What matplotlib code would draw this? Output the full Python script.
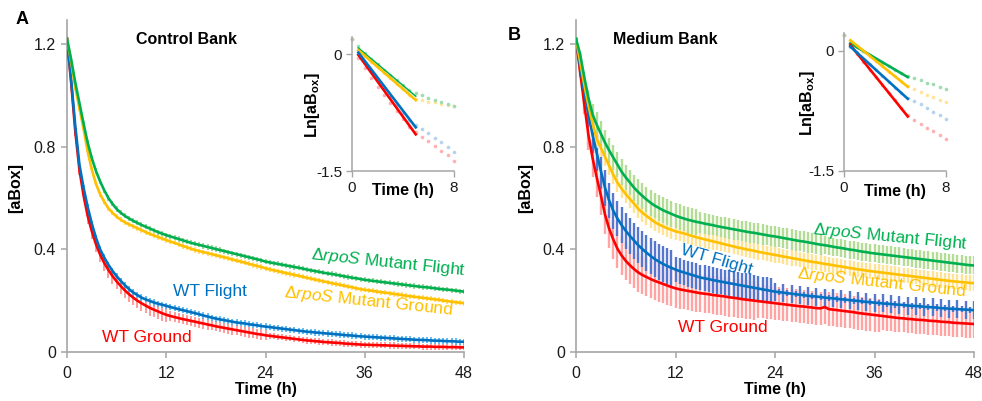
import numpy as np
import matplotlib
matplotlib.use("Agg")
import matplotlib.pyplot as plt

plt.rcParams['font.family'] = ['Liberation Sans', 'DejaVu Sans']
plt.rcParams['mathtext.fontset'] = 'custom'
plt.rcParams['mathtext.rm'] = 'Liberation Sans'
plt.rcParams['mathtext.it'] = 'Liberation Sans:italic'
plt.rcParams['mathtext.bf'] = 'Liberation Sans:bold'

# ---------------- data ----------------
TIME_H = np.arange(0, 48.5, 0.5)

A_MUT_FLIGHT = [1.22, 1.14, 1.05, 0.97, 0.89, 0.815, 0.755, 0.705, 0.665, 0.63, 0.60, 0.577, 0.557, 0.542, 0.53, 0.52,
                0.511, 0.503, 0.495, 0.488, 0.481, 0.474, 0.467, 0.461, 0.455, 0.45, 0.445, 0.44, 0.435, 0.43, 0.425, 0.421,
                0.417, 0.413, 0.409, 0.405, 0.401, 0.397, 0.393, 0.389, 0.385, 0.381, 0.377, 0.373, 0.369, 0.365, 0.361, 0.357,
                0.352, 0.349, 0.346, 0.343, 0.340, 0.337, 0.334, 0.331, 0.328, 0.325, 0.321, 0.318, 0.315, 0.312, 0.309, 0.306,
                0.304, 0.301, 0.298, 0.295, 0.292, 0.289, 0.287, 0.284, 0.281, 0.279, 0.277, 0.275, 0.273, 0.271, 0.269, 0.267,
                0.265, 0.263, 0.261, 0.259, 0.257, 0.255, 0.253, 0.252, 0.250, 0.248, 0.246, 0.244, 0.243, 0.241, 0.239, 0.237, 0.235]
A_MUT_GROUND = [1.22, 1.13, 1.03, 0.95, 0.87, 0.78, 0.71, 0.655, 0.615, 0.585, 0.56, 0.542, 0.527, 0.515, 0.505, 0.497,
                0.49, 0.482, 0.475, 0.467, 0.46, 0.454, 0.448, 0.442, 0.436, 0.43, 0.425, 0.419, 0.413, 0.408, 0.402, 0.397,
                0.393, 0.389, 0.385, 0.381, 0.377, 0.373, 0.369, 0.365, 0.36, 0.356, 0.352, 0.348, 0.343, 0.339, 0.335, 0.331,
                0.326, 0.322, 0.318, 0.315, 0.311, 0.307, 0.304, 0.300, 0.297, 0.293, 0.289, 0.286, 0.282, 0.279, 0.275, 0.272,
                0.268, 0.265, 0.262, 0.258, 0.255, 0.252, 0.248, 0.245, 0.242, 0.24, 0.238, 0.235, 0.233, 0.231, 0.229, 0.226,
                0.224, 0.222, 0.219, 0.217, 0.215, 0.213, 0.211, 0.209, 0.207, 0.205, 0.203, 0.200, 0.198, 0.196, 0.194, 0.192, 0.19]
A_WT_FLIGHT = [1.22, 1.06, 0.88, 0.73, 0.64, 0.565, 0.50, 0.445, 0.40, 0.368, 0.34, 0.316, 0.295, 0.277, 0.26, 0.245,
               0.232, 0.222, 0.212, 0.205, 0.199, 0.193, 0.188, 0.184, 0.18, 0.175, 0.171, 0.167, 0.163, 0.159, 0.155, 0.151,
               0.147, 0.142, 0.138, 0.134, 0.13, 0.127, 0.124, 0.121, 0.118, 0.115, 0.113, 0.111, 0.108, 0.106, 0.104, 0.101,
               0.099, 0.097, 0.095, 0.093, 0.091, 0.089, 0.087, 0.085, 0.083, 0.081, 0.079, 0.078, 0.076, 0.075, 0.073, 0.072,
               0.071, 0.069, 0.068, 0.066, 0.065, 0.064, 0.062, 0.061, 0.06, 0.059, 0.058, 0.057, 0.056, 0.055, 0.054, 0.053,
               0.052, 0.051, 0.05, 0.049, 0.048, 0.047, 0.047, 0.046, 0.045, 0.044, 0.044, 0.043, 0.042, 0.042, 0.041, 0.04, 0.04]
A_WT_GROUND = [1.22, 1.05, 0.86, 0.71, 0.61, 0.53, 0.47, 0.42, 0.38, 0.347, 0.32, 0.296, 0.275, 0.257, 0.24, 0.225,
               0.212, 0.2, 0.19, 0.181, 0.172, 0.165, 0.158, 0.151, 0.145, 0.14, 0.136, 0.132, 0.128, 0.125, 0.121, 0.118,
               0.114, 0.111, 0.107, 0.104, 0.1, 0.097, 0.094, 0.091, 0.088, 0.085, 0.082, 0.079, 0.076, 0.073, 0.07, 0.068,
               0.065, 0.063, 0.061, 0.059, 0.057, 0.055, 0.053, 0.051, 0.049, 0.047, 0.045, 0.044, 0.042, 0.041, 0.039, 0.038,
               0.037, 0.036, 0.035, 0.033, 0.032, 0.031, 0.03, 0.029, 0.028, 0.028, 0.027, 0.027, 0.026, 0.026, 0.025, 0.025,
               0.024, 0.024, 0.023, 0.023, 0.022, 0.022, 0.021, 0.021, 0.021, 0.02, 0.02, 0.02, 0.019, 0.019, 0.019, 0.018, 0.018]

B_MUT_FLIGHT = [1.22, 1.16, 1.07, 0.99, 0.925, 0.885, 0.85, 0.815, 0.785, 0.757, 0.73, 0.702, 0.68, 0.66, 0.64, 0.623,
                0.608, 0.594, 0.581, 0.57, 0.561, 0.552, 0.545, 0.538, 0.531, 0.525, 0.52, 0.515, 0.511, 0.507, 0.504, 0.5,
                0.497, 0.494, 0.49, 0.487, 0.484, 0.481, 0.478, 0.475, 0.472, 0.469, 0.466, 0.464, 0.461, 0.458, 0.455, 0.452,
                0.45, 0.447, 0.444, 0.441, 0.438, 0.435, 0.432, 0.43, 0.427, 0.424, 0.421, 0.418, 0.416, 0.413, 0.41, 0.407,
                0.405, 0.402, 0.399, 0.397, 0.394, 0.391, 0.389, 0.386, 0.384, 0.382, 0.38, 0.378, 0.376, 0.374, 0.372, 0.37,
                0.368, 0.366, 0.364, 0.362, 0.36, 0.358, 0.356, 0.354, 0.352, 0.35, 0.348, 0.346, 0.344, 0.342, 0.34, 0.338, 0.337]
B_MUT_GROUND = [1.22, 1.13, 1.04, 0.96, 0.89, 0.83, 0.795, 0.76, 0.725, 0.69, 0.66, 0.636, 0.615, 0.596, 0.578, 0.558,
                0.543, 0.53, 0.518, 0.506, 0.497, 0.489, 0.482, 0.476, 0.47, 0.466, 0.462, 0.457, 0.452, 0.447, 0.443, 0.439,
                0.435, 0.431, 0.427, 0.423, 0.419, 0.415, 0.411, 0.407, 0.404, 0.4, 0.397, 0.394, 0.39, 0.387, 0.384, 0.381,
                0.378, 0.375, 0.372, 0.369, 0.366, 0.363, 0.36, 0.357, 0.354, 0.351, 0.349, 0.346, 0.343, 0.341, 0.338, 0.335,
                0.333, 0.33, 0.327, 0.325, 0.322, 0.32, 0.317, 0.315, 0.313, 0.311, 0.309, 0.307, 0.305, 0.303, 0.301, 0.299,
                0.297, 0.295, 0.293, 0.291, 0.289, 0.287, 0.285, 0.283, 0.281, 0.279, 0.277, 0.275, 0.274, 0.272, 0.271, 0.269, 0.268]
B_WT_FLIGHT = [1.22, 1.11, 1.01, 0.925, 0.845, 0.775, 0.705, 0.64, 0.59, 0.55, 0.52, 0.494, 0.472, 0.452, 0.434, 0.416,
               0.401, 0.387, 0.374, 0.362, 0.352, 0.343, 0.335, 0.328, 0.321, 0.315, 0.31, 0.305, 0.3, 0.295, 0.29, 0.287,
               0.284, 0.28, 0.277, 0.274, 0.271, 0.268, 0.265, 0.262, 0.259, 0.256, 0.253, 0.25, 0.247, 0.244, 0.241, 0.238,
               0.235, 0.233, 0.231, 0.229, 0.227, 0.225, 0.223, 0.221, 0.219, 0.217, 0.216, 0.214, 0.212, 0.21, 0.209, 0.207,
               0.205, 0.204, 0.202, 0.2, 0.199, 0.197, 0.195, 0.194, 0.192, 0.191, 0.189, 0.188, 0.187, 0.185, 0.184, 0.183,
               0.181, 0.18, 0.179, 0.178, 0.176, 0.175, 0.174, 0.173, 0.171, 0.17, 0.169, 0.168, 0.167, 0.166, 0.165, 0.164, 0.163]
B_WT_GROUND = [1.22, 1.09, 0.965, 0.845, 0.755, 0.68, 0.61, 0.535, 0.48, 0.438, 0.402, 0.376, 0.355, 0.338, 0.323, 0.31,
               0.3, 0.292, 0.284, 0.277, 0.271, 0.265, 0.259, 0.253, 0.248, 0.244, 0.241, 0.238, 0.235, 0.232, 0.229, 0.227,
               0.225, 0.222, 0.22, 0.218, 0.216, 0.213, 0.211, 0.209, 0.206, 0.204, 0.202, 0.2, 0.198, 0.196, 0.194, 0.192,
               0.19, 0.188, 0.186, 0.184, 0.182, 0.18, 0.178, 0.177, 0.175, 0.173, 0.171, 0.17, 0.175, 0.167, 0.165, 0.163,
               0.161, 0.159, 0.157, 0.155, 0.152, 0.15, 0.148, 0.146, 0.144, 0.142, 0.14, 0.138, 0.136, 0.134, 0.132, 0.131,
               0.129, 0.128, 0.126, 0.125, 0.124, 0.122, 0.121, 0.12, 0.118, 0.117, 0.116, 0.114, 0.113, 0.112, 0.111, 0.11, 0.109]

# error bar half-widths
ERR_A_MUT_FLIGHT = [0.0] + [0.01] * 96
ERR_A_MUT_GROUND = [0.0] + [0.01] * 96
ERR_A_WT_FLIGHT = [0.0] + [0.012] * 96
ERR_A_WT_GROUND = [0.0] + [0.02] * 4 + [0.03] * 20 + [0.02] * 24 + [0.012] * 48
ERR_B_MUT_FLIGHT = [0.0, 0.01, 0.02, 0.03, 0.04] + [0.05] * 25 + [0.04] * 30 + [0.035] * 37
ERR_B_MUT_GROUND = [0.0, 0.01, 0.02, 0.03] + [0.035] * 30 + [0.03] * 63
ERR_B_WT_FLIGHT = [0.0, 0.01, 0.03, 0.05] + [0.07] * 20 + [0.05] * 24 + [0.035, 0.012] * 24 + [0.035]
ERR_B_WT_GROUND = [0.0, 0.02, 0.04, 0.06] + [0.075] * 40 + [0.065] * 30 + [0.055] * 23

# inset: ln[aBox] points and linear fits
INSET_T = np.arange(0, 8.5, 0.5)
FIT_T = [0.5, 5.0]
INSET_A = {
    'mut_flight': [0.2, 0.1, 0.02, -0.06, -0.13, -0.2, -0.27, -0.33, -0.4, -0.46, -0.5, -0.53, -0.56, -0.59, -0.61, -0.64, -0.67],
    'mut_ground': [0.2, 0.06, -0.02, -0.1, -0.17, -0.24, -0.31, -0.38, -0.45, -0.52, -0.57, -0.59, -0.61, -0.62, -0.64, -0.65, -0.67],
    'wt_flight': [0.2, 0.0, -0.12, -0.23, -0.34, -0.45, -0.55, -0.65, -0.75, -0.84, -0.91, -0.96, -1.01, -1.07, -1.13, -1.19, -1.25],
    'wt_ground': [0.2, -0.05, -0.18, -0.3, -0.42, -0.53, -0.63, -0.73, -0.83, -0.93, -1.0, -1.06, -1.12, -1.18, -1.24, -1.3, -1.37],
}
FIT_A = {'mut_flight': [0.08, -0.54], 'mut_ground': [0.05, -0.59], 'wt_flight': [0.02, -0.94], 'wt_ground': [-0.01, -1.03]}
INSET_B = {
    'mut_flight': [0.2, 0.1, 0.04, -0.01, -0.06, -0.1, -0.15, -0.19, -0.24, -0.28, -0.32, -0.34, -0.37, -0.4, -0.42, -0.45, -0.48],
    'mut_ground': [0.2, 0.12, 0.06, 0.0, -0.07, -0.13, -0.19, -0.26, -0.32, -0.38, -0.44, -0.48, -0.52, -0.55, -0.58, -0.61, -0.64],
    'wt_flight': [0.2, 0.05, -0.02, -0.1, -0.17, -0.24, -0.31, -0.39, -0.46, -0.53, -0.59, -0.63, -0.67, -0.72, -0.76, -0.8, -0.85],
    'wt_ground': [0.2, 0.06, -0.04, -0.14, -0.24, -0.33, -0.43, -0.53, -0.62, -0.72, -0.8, -0.86, -0.91, -0.96, -1.0, -1.05, -1.1],
}
FIT_B = {'mut_flight': [0.09, -0.33], 'mut_ground': [0.13, -0.45], 'wt_flight': [0.05, -0.6], 'wt_ground': [0.07, -0.82]}

X_TICKS = [0, 12, 24, 36, 48]
Y_TICKS = [0, 0.4, 0.8, 1.2]
Y_TICKLABELS = ['0', '0.4', '0.8', '1.2']

# ---------------- style ----------------
LINE = {'mut_flight': '#00B050', 'mut_ground': '#FFC000', 'wt_flight': '#0070C0', 'wt_ground': '#FF0000'}
ERRC_A = {'mut_flight': '#8FD18F', 'mut_ground': '#FFD966', 'wt_flight': '#4DB3F0', 'wt_ground': '#FF8A8A'}
ERRC_B = {'mut_flight': '#B3DD95', 'mut_ground': '#FFE395', 'wt_flight': '#5577D0', 'wt_ground': '#FFA3A3'}
DOT = {'mut_flight': '#9FDDB0', 'mut_ground': '#FFE599', 'wt_flight': '#B4D3F0', 'wt_ground': '#FFB0B0'}
SPINE = '#A6A6A6'

fig = plt.figure(figsize=(9.82, 4.01), dpi=100)

W, H = 982.0, 401.0


def fig_rect(x0, y_top, x1, y_bot):
    return [x0 / W, 1 - y_bot / H, (x1 - x0) / W, (y_bot - y_top) / H]


def style_main(ax, ylabel_x):
    ax.set_xlim(0, 48)
    ax.set_ylim(0, 1.293)
    for s in ['top', 'right']:
        ax.spines[s].set_visible(False)
    for s in ['left', 'bottom']:
        ax.spines[s].set_color(SPINE)
        ax.spines[s].set_linewidth(1.2)
    ax.set_xticks(X_TICKS)
    ax.set_yticks(Y_TICKS)
    ax.set_yticklabels(Y_TICKLABELS)
    ax.tick_params(axis='both', colors=SPINE, labelcolor='#1a1a1a', labelsize=11.5, length=4, width=1.1, pad=4)
    ax.tick_params(axis='x', pad=6)
    ax.set_xlabel('Time (h)', fontsize=11.5, fontweight='bold', labelpad=0.5)
    ax.set_ylabel('[aBox]', fontsize=11.5, fontweight='bold')
    ax.yaxis.set_label_coords(ylabel_x, 0.494)


def draw_main(ax, series, errs, errc, elw):
    order = ['wt_ground', 'wt_flight', 'mut_ground', 'mut_flight']
    for k in order:
        v = np.array(series[k])
        e = np.array(errs[k])
        ax.vlines(TIME_H, v - e, v + e, colors=errc[k], lw=elw, zorder=2)
    for k in order:
        ax.plot(TIME_H, series[k], color=LINE[k], lw=1.9, zorder=3, solid_joinstyle='round')


def draw_inset(ax, pts, fits, green_lw, ylabel_x):
    ax.set_xlim(0, 8)
    ax.set_ylim(-1.5, 0.22)
    for s in ['top', 'right']:
        ax.spines[s].set_visible(False)
    for s in ['left', 'bottom']:
        ax.spines[s].set_color(SPINE)
        ax.spines[s].set_linewidth(1.1)
    ax.set_xticks([0, 8])
    ax.set_yticks([0, -1.5])
    ax.set_yticklabels(['0', '-1.5'])
    ax.tick_params(axis='both', colors=SPINE, labelcolor='#1a1a1a', labelsize=11, length=4, width=1, pad=3)
    ax.patch.set_alpha(0)
    order = ['wt_ground', 'wt_flight', 'mut_ground', 'mut_flight']
    for k in order:
        ax.plot(INSET_T, pts[k], ls='none', marker='o', ms=2.6, mec='none', mfc=DOT[k], clip_on=False, zorder=2)
    for k in ['mut_flight', 'mut_ground', 'wt_ground', 'wt_flight']:
        lw = green_lw if k == 'mut_flight' else 1.9
        ax.plot(FIT_T, fits[k], color=LINE[k], lw=lw, zorder=3)
    ax.text(0.5, -0.145, 'Time (h)', transform=ax.transAxes, ha='center', va='center',
            fontsize=11.5, fontweight='bold')
    ax.set_ylabel(r'Ln[aB$_{\mathbf{ox}}$]', fontsize=11.5, fontweight='bold')
    ax.yaxis.set_label_coords(ylabel_x, 0.49)


SERIES_A = {'mut_flight': A_MUT_FLIGHT, 'mut_ground': A_MUT_GROUND, 'wt_flight': A_WT_FLIGHT, 'wt_ground': A_WT_GROUND}
ERRS_A = {'mut_flight': ERR_A_MUT_FLIGHT, 'mut_ground': ERR_A_MUT_GROUND, 'wt_flight': ERR_A_WT_FLIGHT, 'wt_ground': ERR_A_WT_GROUND}
SERIES_B = {'mut_flight': B_MUT_FLIGHT, 'mut_ground': B_MUT_GROUND, 'wt_flight': B_WT_FLIGHT, 'wt_ground': B_WT_GROUND}
ERRS_B = {'mut_flight': ERR_B_MUT_FLIGHT, 'mut_ground': ERR_B_MUT_GROUND, 'wt_flight': ERR_B_WT_FLIGHT, 'wt_ground': ERR_B_WT_GROUND}

# Panel A
axA = fig.add_axes(fig_rect(67, 20, 464, 352))
style_main(axA, -0.11)
draw_main(axA, SERIES_A, ERRS_A, ERRC_A, 1.2)
LAB = 12.5
axA.text(38.8, 0.347, r'Δ$\it{rpoS}$ Mutant Flight', color='#00B050', fontsize=LAB, ha='center', va='center', rotation=-6)
axA.text(36.4, 0.197, r'Δ$\it{rpoS}$ Mutant Ground', color='#FFC000', fontsize=LAB, ha='center', va='center', rotation=-6)
axA.text(17.3, 0.234, 'WT Flight', color='#0070C0', fontsize=LAB, ha='center', va='center')
axA.text(9.7, 0.058, 'WT Ground', color='#FF0000', fontsize=LAB, ha='center', va='center')

# Panel B
axB = fig.add_axes(fig_rect(576, 20, 974, 352))
style_main(axB, -0.107)
draw_main(axB, SERIES_B, ERRS_B, ERRC_B, 1.7)
axB.text(37.9, 0.448, r'Δ$\it{rpoS}$ Mutant Flight', color='#00B050', fontsize=LAB, ha='center', va='center', rotation=-5.5)
axB.text(36.9, 0.269, r'Δ$\it{rpoS}$ Mutant Ground', color='#FFC000', fontsize=LAB, ha='center', va='center', rotation=-6.2)
axB.text(17.0, 0.358, 'WT Flight', color='#0070C0', fontsize=LAB, ha='center', va='center', rotation=-16)
axB.text(17.7, 0.097, 'WT Ground', color='#FF0000', fontsize=LAB, ha='center', va='center')

# Insets
inA = fig.add_axes(fig_rect(352, 37, 454, 171))
draw_inset(inA, INSET_A, FIT_A, 1.1, -0.29)
inB = fig.add_axes(fig_rect(844, 33, 946, 171))
draw_inset(inB, INSET_B, FIT_B, 1.9, -0.26)

# Panel letters / titles
fig.text(22 / W, 1 - 20 / H, 'A', fontsize=13, fontweight='bold', ha='center', va='center')
fig.text(514 / W, 1 - 36 / H, 'B', fontsize=13, fontweight='bold', ha='center', va='center')
fig.text(186 / W, 1 - 40 / H, 'Control Bank', fontsize=11.5, fontweight='bold', ha='center', va='center')
fig.text(665 / W, 1 - 40 / H, 'Medium Bank', fontsize=11.5, fontweight='bold', ha='center', va='center')

fig.savefig('out.png', dpi=100)
